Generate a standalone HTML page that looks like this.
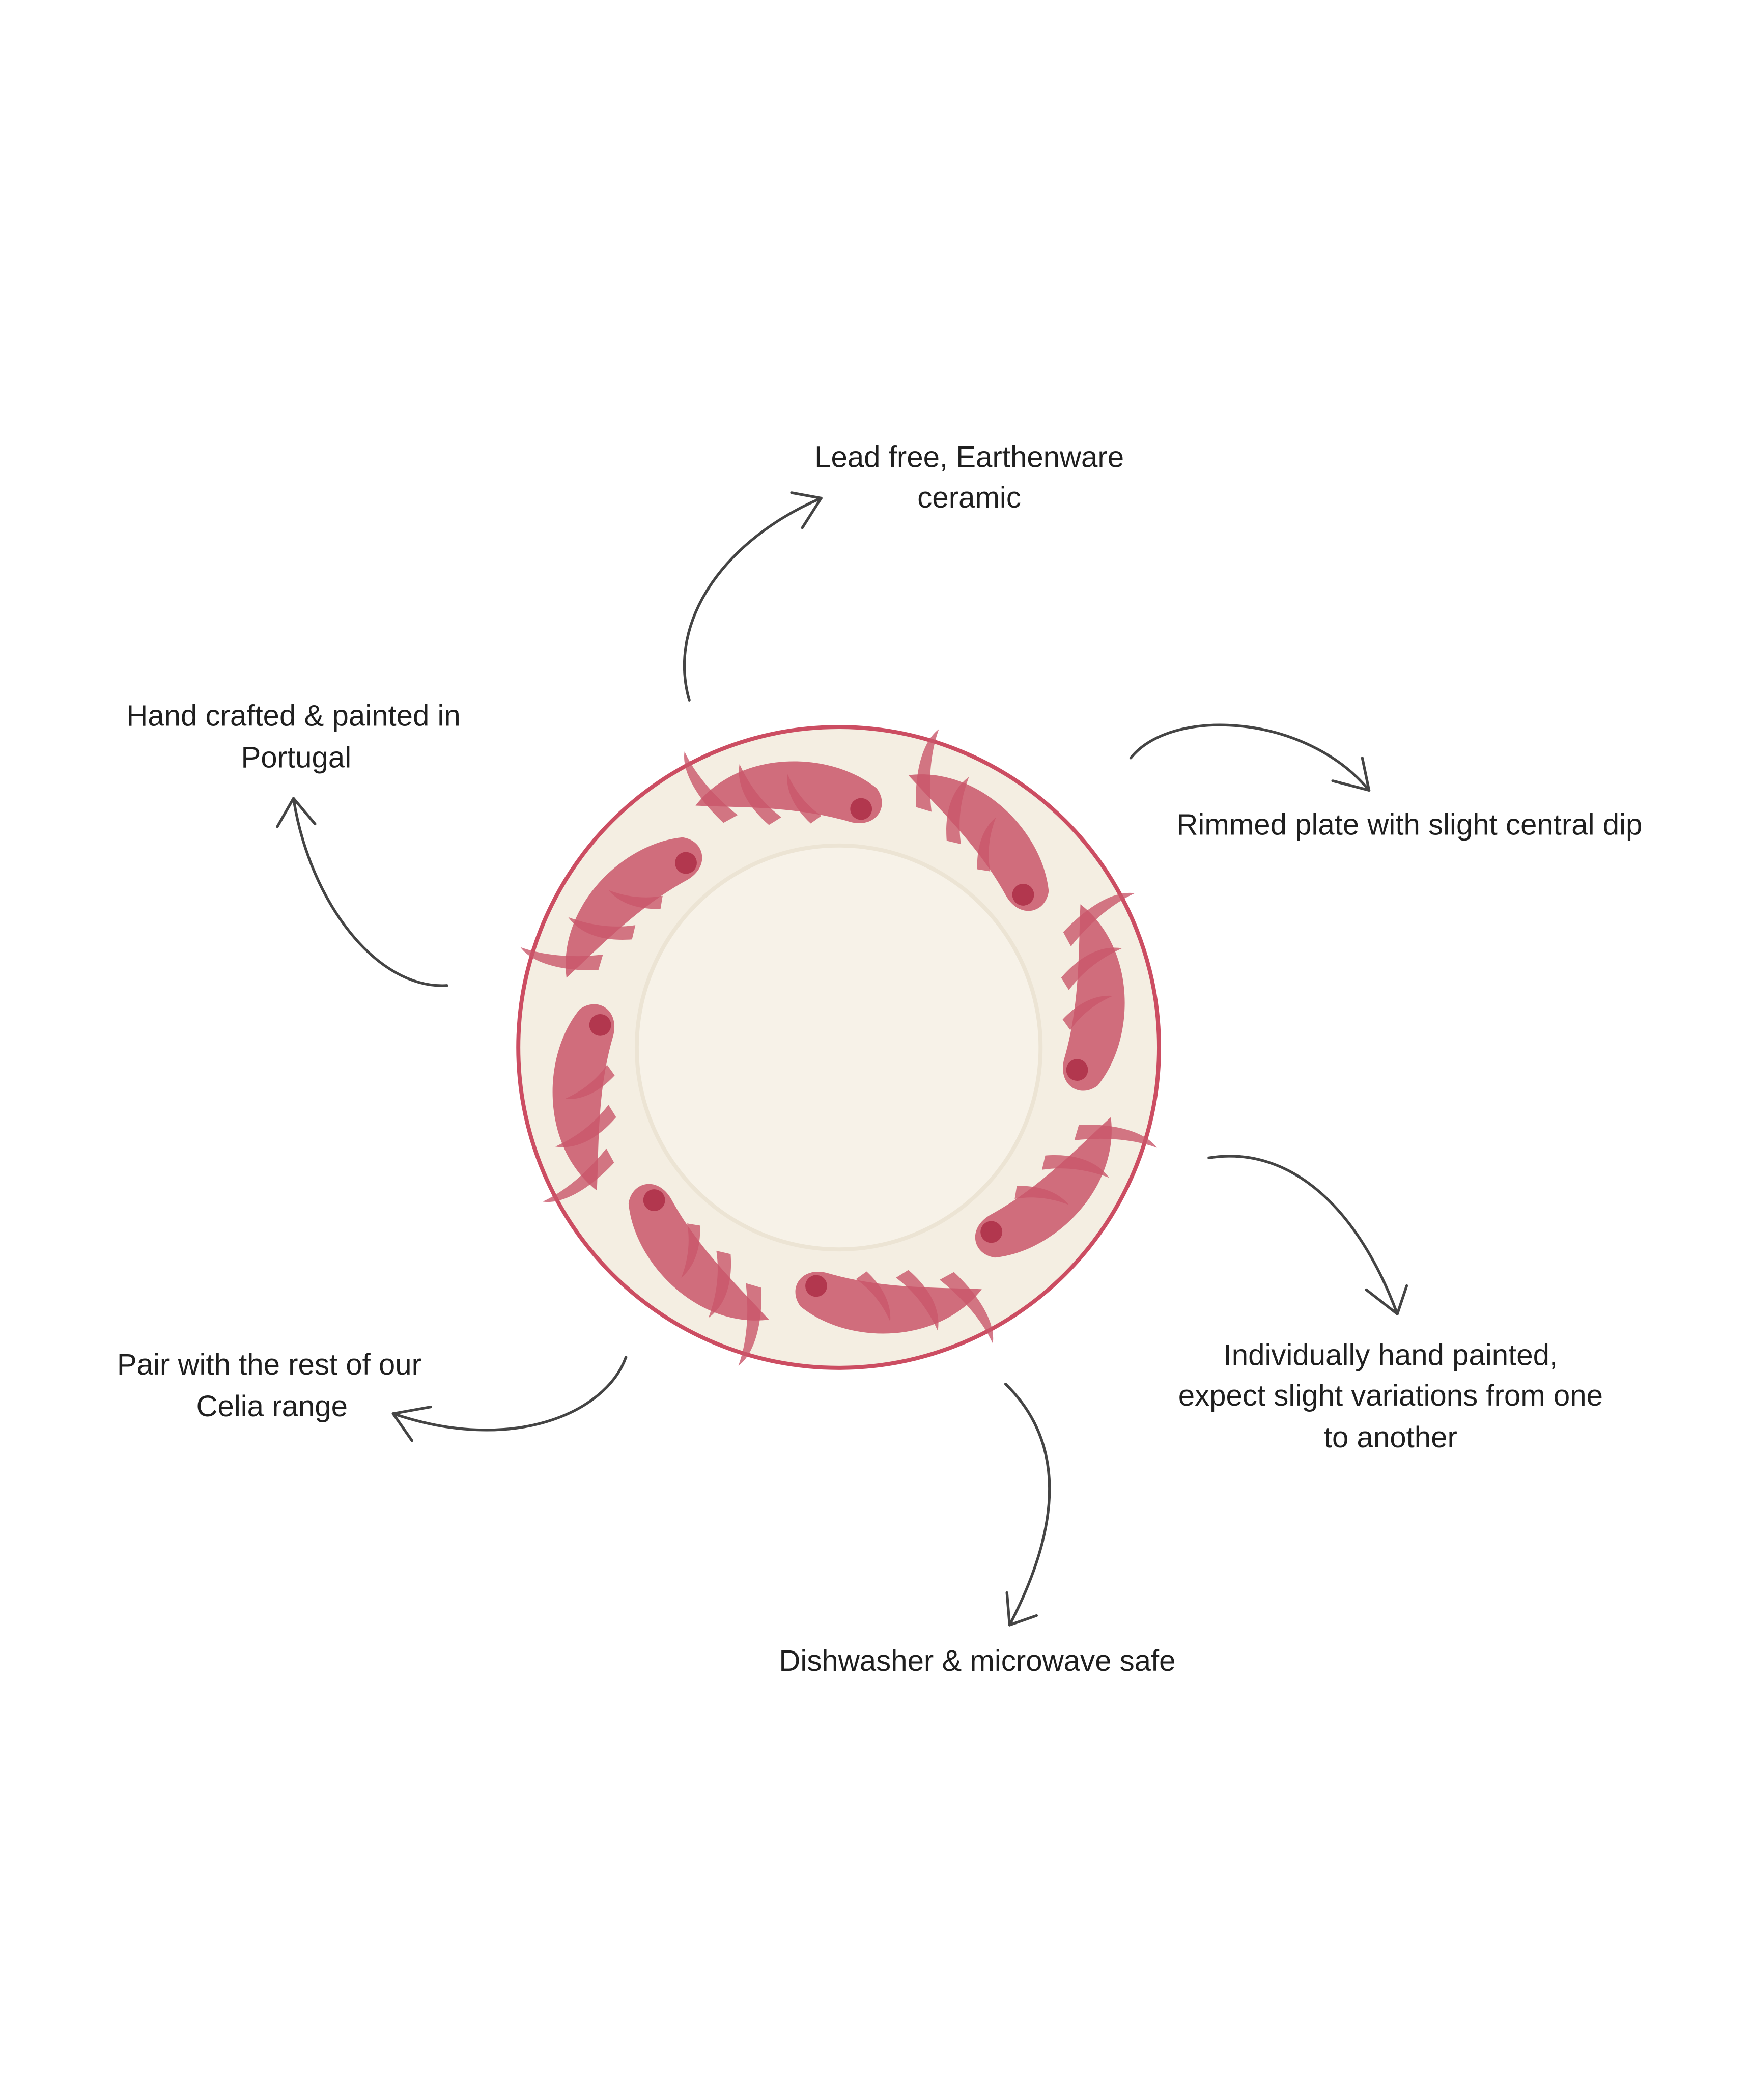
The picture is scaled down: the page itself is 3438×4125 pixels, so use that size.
<!DOCTYPE html>
<html><head><style>
html,body{margin:0;padding:0;background:#fff;}
svg{display:block;}
text{font-family:"Liberation Sans",sans-serif;font-size:22px;fill:#1f1f1f;text-anchor:middle;}
</style></head><body>
<svg width="3438" height="4125" viewBox="0 0 1300 1559.8" xmlns="http://www.w3.org/2000/svg">
<rect width="1300" height="1560" fill="#fff"/>
<defs>
<g id="m" transform="scale(1.35)">
<path d="M0,-55 C30,-30 28,20 6,45 C-4,52 -16,44 -12,30 C-2,0 -2,-30 0,-55Z" fill="#c9566a" opacity="0.85"/>
<circle cx="-5" cy="36" r="6" fill="#a8263f" opacity="0.75"/>
<path d="M-10,-40 C5,-55 20,-62 30,-60 C18,-55 5,-45 -6,-32Z" fill="#c9566a" opacity="0.8"/>
<path d="M-12,-15 C0,-28 12,-32 22,-30 C10,-25 0,-18 -8,-8Z" fill="#c9566a" opacity="0.8"/>
<path d="M-12,8 C-2,-2 8,-5 16,-4 C6,0 -2,6 -8,14Z" fill="#c9566a" opacity="0.8"/>
</g>
</defs>
<g transform="translate(623,778)">
<circle r="238" fill="#f4eee2" stroke="#cc4d62" stroke-width="3"/>
<circle r="150" fill="#f7f2e8"/>
<circle r="150" fill="none" stroke="#ece4d4" stroke-width="3"/>
<g transform="rotate(-100) translate(185,0) rotate(8)"><use href="#m"/></g>
<g transform="rotate(-55) translate(185,0) rotate(8)"><use href="#m"/></g>
<g transform="rotate(-10) translate(185,0) rotate(8)"><use href="#m"/></g>
<g transform="rotate(35) translate(185,0) rotate(8)"><use href="#m"/></g>
<g transform="rotate(80) translate(185,0) rotate(8)"><use href="#m"/></g>
<g transform="rotate(125) translate(185,0) rotate(8)"><use href="#m"/></g>
<g transform="rotate(170) translate(185,0) rotate(8)"><use href="#m"/></g>
<g transform="rotate(215) translate(185,0) rotate(8)"><use href="#m"/></g>
</g>
<g fill="none" stroke="#444" stroke-width="2" stroke-linecap="round">
<path d="M512,520 C495,460 540,400 610,370"/><path d="M610,370 L588,366 M610,370 L596,392"/>
<path d="M840,563 C870,525 970,530 1017,587"/><path d="M1017,587 L1012,563 M1017,587 L990,580"/>
<path d="M332,732 C280,735 230,670 218,593"/><path d="M218,593 L206,614 M218,593 L234,612"/>
<path d="M898,860 C960,850 1010,900 1038,976"/><path d="M1038,976 L1015,958 M1038,976 L1045,955"/>
<path d="M747,1028 C790,1070 790,1130 750,1207"/><path d="M750,1207 L748,1183 M750,1207 L770,1200"/>
<path d="M465,1008 C450,1050 380,1080 292,1050"/><path d="M292,1050 L306,1070 M292,1050 L320,1045"/>
</g>
<text x="720" y="347">Lead free, Earthenware</text>
<text x="720" y="377">ceramic</text>
<text x="218" y="539">Hand crafted &amp; painted in</text>
<text x="220" y="570">Portugal</text>
<text x="1047" y="620">Rimmed plate with slight central dip</text>
<text x="1033" y="1014">Individually hand painted,</text>
<text x="1033" y="1044">expect slight variations from one</text>
<text x="1033" y="1075">to another</text>
<text x="200" y="1021">Pair with the rest of our</text>
<text x="202" y="1052">Celia range</text>
<text x="726" y="1241">Dishwasher &amp; microwave safe</text>
</svg>
</body></html>
